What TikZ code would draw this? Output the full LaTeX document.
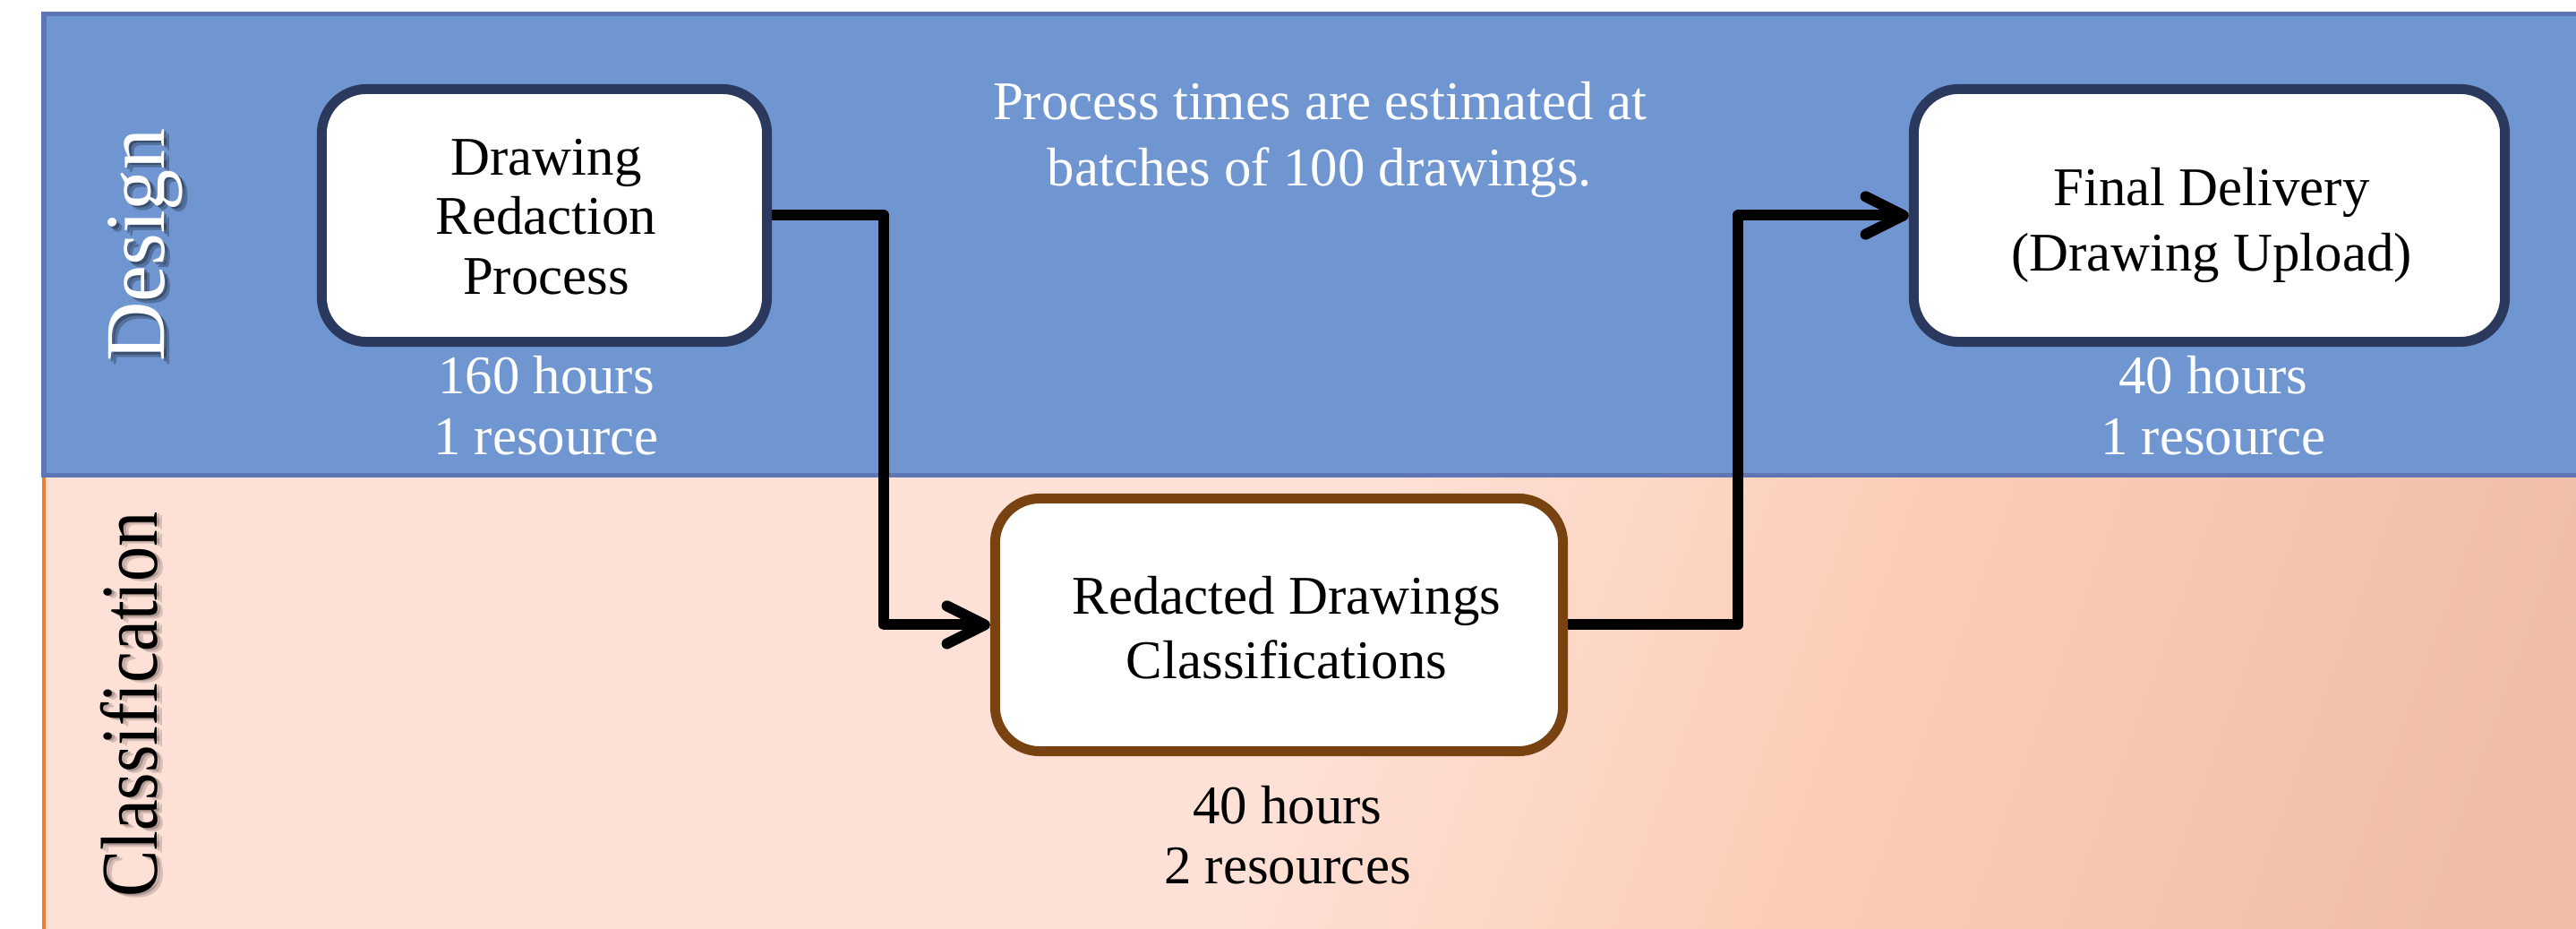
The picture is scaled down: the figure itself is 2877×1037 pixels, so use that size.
\documentclass[tikz,border=0pt]{standalone}
\usepackage{fontspec}
\setmainfont{Liberation Serif}
\newfontfamily\designlanefont[FakeStretch=0.97]{Liberation Serif}
\newfontfamily\classlanefont[FakeStretch=0.87]{Liberation Serif}
\usetikzlibrary{arrows.meta}

\definecolor{designfill}{RGB}{112,150,210}
\definecolor{designedge}{RGB}{95,118,181}
\definecolor{peachlight}{RGB}{253,224,214}
\definecolor{peachmid}{RGB}{252,205,181}
\definecolor{peachdeep}{RGB}{239,189,166}
\definecolor{laneorange}{RGB}{237,125,49}
\definecolor{navyedge}{RGB}{44,57,95}
\definecolor{brownedge}{RGB}{121,67,17}

% soft peach ramp for the classification lane
\pgfdeclarehorizontalshading{peachfade}{100bp}{%
  color(0bp)=(peachlight); color(50bp)=(peachlight);
  color(63bp)=(peachmid); color(80bp)=(peachdeep); color(100bp)=(peachdeep)}

\begin{document}
\begin{tikzpicture}[x=0.01cm, y=-0.01cm,
  procbox/.style={draw=#1, line width=0.11cm, fill=white, rounded corners=0.5cm,
                  minimum height=2.82cm, inner sep=0pt},
  boxtext/.style={align=center, inner sep=0pt, font={\fontsize{17.3}{#1}\selectfont}},
  lanelabel/.style={rotate=90, inner sep=0pt},
  conn/.style={line width=0.12cm, line join=round,
               -{Straight Barb[length=12pt, width=12pt, round]}}]

\useasboundingbox (0,0) rectangle (2877,1037);
\fill[white] (0,0) rectangle (2877,1037);

% classification lane
\shade[shading=peachfade, shading angle=-20] (49,530) rectangle (2877,1037);
\draw[laneorange, line width=0.045cm] (49,530) -- (49,1037);

% design lane
\path[fill=designfill, draw=designedge, line width=0.05cm] (49,15.5) rectangle (2885,530.5);

% lane titles
\node[lanelabel, text=black, opacity=0.25, font={\designlanefont\fontsize{27}{30}\selectfont}] (designShadowB) at (168,279) {Design};
\node[lanelabel, text=black, opacity=0.3, font={\designlanefont\fontsize{27}{30}\selectfont}] (designShadow) at (165,276) {Design};
\node[lanelabel, text=white, font={\designlanefont\fontsize{27}{30}\selectfont}] (designLabel) at (162,273.5) {Design};

\node[lanelabel, text=black, opacity=0.15, font={\classlanefont\fontsize{25.6}{28}\selectfont}] (classShadowB) at (150,790) {Classification};
\node[lanelabel, text=black, opacity=0.2, font={\classlanefont\fontsize{25.6}{28}\selectfont}] (classShadow) at (147,788) {Classification};
\node[lanelabel, text=black, font={\classlanefont\fontsize{25.6}{28}\selectfont}] (classLabel) at (144,786.5) {Classification};

% process boxes
\node[procbox=navyedge, minimum width=4.97cm] (redaction) at (608,240.5) {};
\node[procbox=brownedge, minimum width=6.34cm] (classify) at (1428.5,697.5) {};
\node[procbox=navyedge, minimum width=6.60cm] (delivery) at (2467.5,240.5) {};

% flow
\draw[conn] (redaction.east) -- ([xshift=1.25cm]redaction.east) |- (classify.west);
\draw[conn] (classify.east) -- ([xshift=1.9cm]classify.east) |- (delivery.west);

% box captions
\node[boxtext=19] (redactionText) at (610,242) {Drawing\\Redaction\\Process};
\node[boxtext=20.5] (classifyText) at (1437,701) {Redacted Drawings\\Classifications};
\node[boxtext=20.8] (deliveryText) at (2470,251.5) {Final Delivery\\(Drawing Upload)};

% notes
\node[boxtext=21, text=white] (batchNote) at (1474,156) {Process times are estimated at\\batches of 100 drawings.};
\node[boxtext=19.3, text=white] (redactionCost) at (610,452.5) {160 hours\\1 resource};
\node[boxtext=19, text=black] (classifyCost) at (1438,932) {40 hours\\2 resources};
\node[boxtext=19.3, text=white] (deliveryCost) at (2472,452.5) {40 hours\\1 resource};
\end{tikzpicture}
\end{document}
